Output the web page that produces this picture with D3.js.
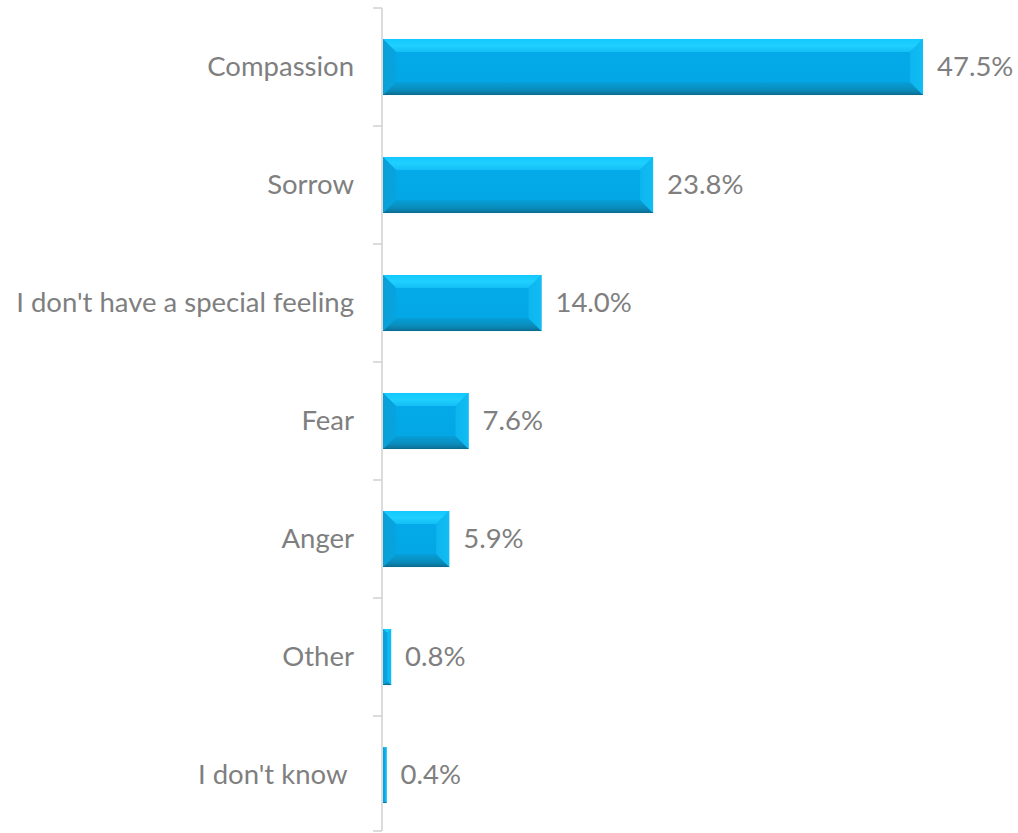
<!DOCTYPE html>
<html>
<head>
<meta charset="utf-8">
<script src="https://cdn.jsdelivr.net/npm/d3@7"></script>
<style>
  html, body { margin: 0; padding: 0; background: #fff; }
  svg { display: block; }
  text { font-family: Lato, "Open Sans", sans-serif; fill: #7f7f7f; white-space: pre; }
</style>
</head>
<body>
<svg id="chart" width="1018" height="833"></svg>
<script>
// Survey responses: feeling reported, share of respondents (%)
const categories = ["Compassion", "Sorrow", "I don't have a special feeling", "Fear", "Anger", "Other", "I don't know "];
const values = [47.5, 23.8, 14.0, 7.6, 5.9, 0.8, 0.4];
const valueLabels = ["47.5%", "23.8%", "14.0%", "7.6%", "5.9%", "0.8%", "0.4%"];

const svg = d3.select("#chart");
const axisX = 382;
const fontSize = 27.5;

const x = d3.scaleLinear().domain([0, 50]).range([axisX, axisX + 569.5]);
const y = d3.scaleBand().domain(categories).range([8, 834]).paddingInner(0.525).paddingOuter(0.2625);

// Gradients for the bevelled bar faces
const defs = svg.append("defs");
function vGrad(id, stops) {
  const g = defs.append("linearGradient").attr("id", id).attr("x1", 0).attr("y1", 0).attr("x2", 0).attr("y2", 1);
  stops.forEach(([o, c]) => g.append("stop").attr("offset", o).attr("stop-color", c));
}
function hGrad(id, stops) {
  const g = defs.append("linearGradient").attr("id", id).attr("x1", 0).attr("y1", 0).attr("x2", 1).attr("y2", 0);
  stops.forEach(([o, c]) => g.append("stop").attr("offset", o).attr("stop-color", c));
}
vGrad("gTop", [[0, "#12c8ff"], [0.5, "#1fd0ff"], [1, "#14bff5"]]);
vGrad("gBottom", [[0, "#05a0d8"], [0.6, "#0a8cbc"], [1, "#0c6f95"]]);
vGrad("gFace", [[0, "#04aaea"], [1, "#03a6e4"]]);
hGrad("gLeft", [[0, "#0b9fd6"], [1, "#06a4e0"]]);
hGrad("gRight", [[0, "#0cb5ee"], [1, "#12bdf3"]]);

// Axis with ticks between categories
const axisColor = "#d0d0d0";
svg.append("line").attr("x1", axisX).attr("x2", axisX).attr("y1", y.range()[0]).attr("y2", 831)
  .attr("stroke", axisColor).attr("stroke-width", 1.5);
const step = y.step();
const tickYs = d3.range(categories.length + 1).map(i => Math.min(y.range()[0] + i * step, 831));
svg.selectAll("line.tick").data(tickYs).join("line").attr("class", "tick")
  .attr("x1", axisX - 9).attr("x2", axisX).attr("y1", d => d).attr("y2", d => d)
  .attr("stroke", axisColor).attr("stroke-width", 1.5);

// Bevelled bars
const bars = svg.selectAll("g.bar").data(categories).join("g").attr("class", "bar");
bars.each(function(c, i) {
  const g = d3.select(this);
  const x0 = x(0) + 1, x1 = x(values[i]);
  const y0 = y(c), y1 = y(c) + y.bandwidth();
  const w = x1 - x0, h = y1 - y0;
  const b = Math.min(13, w / 2, h / 2);
  const pts = a => a.map(p => p.join(",")).join(" ");
  g.append("rect").attr("x", x0).attr("y", y0).attr("width", w).attr("height", h).attr("fill", "url(#gFace)");
  g.append("polygon").attr("points", pts([[x0, y0], [x1, y0], [x1 - b, y0 + b], [x0 + b, y0 + b]])).attr("fill", "url(#gTop)");
  g.append("polygon").attr("points", pts([[x0, y1], [x1, y1], [x1 - b, y1 - b], [x0 + b, y1 - b]])).attr("fill", "url(#gBottom)");
  g.append("polygon").attr("points", pts([[x0, y0], [x0 + b, y0 + b], [x0 + b, y1 - b], [x0, y1]])).attr("fill", "url(#gLeft)");
  g.append("polygon").attr("points", pts([[x1, y0], [x1 - b, y0 + b], [x1 - b, y1 - b], [x1, y1]])).attr("fill", "url(#gRight)");
  g.append("line").attr("x1", x0).attr("x2", x1).attr("y1", y1 - 0.5).attr("y2", y1 - 0.5)
    .attr("stroke", "#0b6a8c").attr("stroke-width", 1).attr("opacity", 0.6);
});

// Category labels
svg.selectAll("text.cat").data(categories).join("text").attr("class", "cat")
  .attr("x", axisX - 28).attr("y", d => y(d) + y.bandwidth() / 2)
  .attr("dy", "0.33em").attr("text-anchor", "end").attr("font-size", fontSize)
  .text(d => d);

// Value labels
svg.selectAll("text.val").data(categories).join("text").attr("class", "val")
  .attr("x", (d, i) => x(values[i]) + 14).attr("y", d => y(d) + y.bandwidth() / 2)
  .attr("dy", "0.33em").attr("text-anchor", "start").attr("font-size", fontSize)
  .text((d, i) => valueLabels[i]);
</script>
</body>
</html>
